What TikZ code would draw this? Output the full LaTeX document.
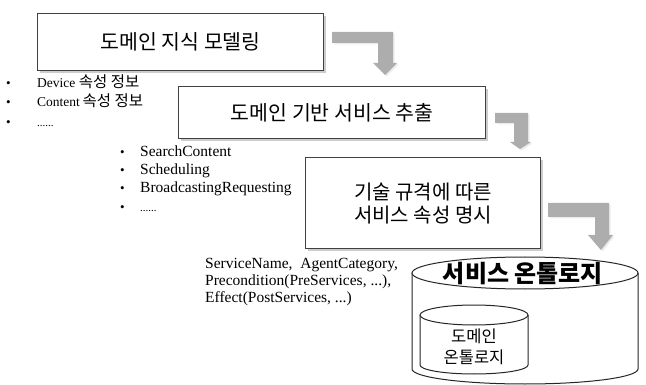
\documentclass[tikz,border=0pt]{standalone}
\usepackage{fontspec}
\setmainfont{Liberation Serif}
\newfontfamily\kr{Noto Sans CJK KR}
\usetikzlibrary{shadows}
\begin{document}
\begin{tikzpicture}[x=1pt,y=-1pt,
  box/.style={draw=black!75, line width=1.1pt, fill=white, inner sep=0pt,
    drop shadow={shadow xshift=2pt, shadow yshift=-2pt, fill=black!40},
    font=\kr, align=center},
  bent/.style={fill=black!32, draw=none,
    drop shadow={shadow xshift=1.5pt, shadow yshift=-1.5pt, fill=black!15}},
  la/.style={anchor=base west, inner sep=0pt, font=\fontsize{13.5}{16}\selectfont},
  lb/.style={anchor=base west, inner sep=0pt, font=\fontsize{15.5}{18}\selectfont},
  lc/.style={anchor=base west, inner sep=0pt, font=\fontsize{15.5}{18}\selectfont},
  dot/.style={anchor=base west, inner sep=0pt, font=\fontsize{13}{16}\selectfont},
  cyl/.style={draw=black!85, line width=1pt}
]
\useasboundingbox (0,0) rectangle (646,385);

% boxes
\node[box, anchor=north west, minimum width=286pt, minimum height=57pt,
  font=\kr\fontsize{20.5}{24}\selectfont] (b1) at (37,13) {도메인 지식 모델링};
\node[box, anchor=north west, minimum width=307pt, minimum height=52pt,
  font=\kr\fontsize{20.5}{24}\selectfont] (b2) at (178,86) {도메인 기반 서비스 추출};
\node[box, anchor=north west, minimum width=235pt, minimum height=91pt,
  font=\kr\fontsize{20}{23}\selectfont] (b3) at (305,157) {기술 규격에 따른\\서비스 속성 명시};

% bent arrows
\path[bent] (332,32) -- (393,32) -- (393,63) -- (397,63) -- (385,75) -- (373,63)
  -- (378,63) -- (378,43) -- (332,43) -- cycle;
\path[bent] (495,113) -- (528,113) -- (528,142) -- (531,142) -- (520,149) -- (510,142)
  -- (514,142) -- (514,123) -- (495,123) -- cycle;
\path[bent] (548,203) -- (609,203) -- (609,235) -- (613,235) -- (601,250) -- (588,235)
  -- (595,235) -- (595,217) -- (548,217) -- cycle;

% list 1
\node[dot] (p11) at (6,88) {\textbullet};
\node[dot] (p12) at (6,107) {\textbullet};
\node[dot] (p13) at (6,127) {\textbullet};
\node[la] (a1) at (37,88) {Device {\kr\fontsize{15.5}{18}\selectfont 속성 정보}};
\node[la] (a2) at (37,107) {Content{\kr\fontsize{15.5}{18}\selectfont\,속성 정보}};
\node[la, font=\fontsize{11}{14}\selectfont] (a3) at (37,127) {......};

% list 2
\node[dot] (p21) at (120,157) {\textbullet};
\node[dot] (p22) at (120,175) {\textbullet};
\node[dot] (p23) at (120,193) {\textbullet};
\node[dot] (p24) at (120,212) {\textbullet};
\node[lb] (c1) at (140,157) {SearchContent};
\node[lb] (c2) at (140,175) {Scheduling};
\node[lb] (c3) at (140,193) {BroadcastingRequesting};
\node[lb, font=\fontsize{11}{14}\selectfont] (c4) at (140,212) {......};

% list 3
\node[lc] (d1) at (205,269) {ServiceName,\ \ AgentCategory,};
\node[lc] (d2) at (205,285.5) {Precondition(PreServices, ...),};
\node[lc] (d3) at (205,302) {Effect(PostServices, ...)};

% outer cylinder
\draw[cyl, fill=white] (412,273) -- (412,369) arc[start angle=180, end angle=0, x radius=113, y radius=15]
  -- (638,273);
\draw[cyl, fill=white] (525,273) ellipse[x radius=113, y radius=16];
\node[font=\kr\bfseries\fontsize{24}{28}\selectfont, inner sep=0pt] (t1) at (523,274) {서비스 온톨로지};

% inner cylinder
\draw[cyl, fill=white] (420,315) -- (420,365) arc[start angle=180, end angle=0, x radius=54, y radius=9]
  -- (528,315);
\draw[cyl, fill=white] (474,315) ellipse[x radius=54, y radius=10];
\node[font=\kr\fontsize{16.5}{21}\selectfont, align=center, inner sep=0pt] (t2) at (474,347) {도메인\\온톨로지};
\end{tikzpicture}
\end{document}
